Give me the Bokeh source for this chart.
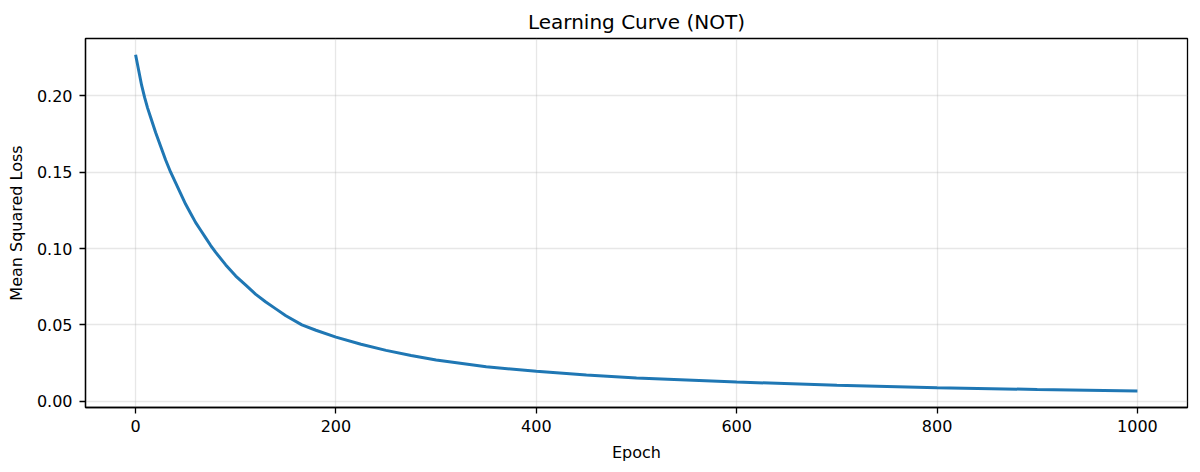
from bokeh.plotting import figure
from bokeh.models import ColumnDataSource, Range1d, FixedTicker, NumeralTickFormatter
from bokeh.embed import file_html
from bokeh.resources import INLINE

# loss values
epochs = [0, 3, 6, 9, 12, 15, 20, 25, 30, 35, 40, 45, 50, 55, 60, 65, 70, 75, 80, 90,
          100, 110, 120, 130, 140, 150, 166, 180, 200, 225, 250, 275, 300, 350, 400,
          450, 500, 600, 700, 800, 900, 1000]
loss = [0.227, 0.217, 0.207, 0.199, 0.192, 0.186, 0.176, 0.167, 0.158, 0.150, 0.143,
        0.136, 0.129, 0.123, 0.117, 0.112, 0.107, 0.102, 0.0975, 0.0893, 0.082, 0.076,
        0.070, 0.065, 0.0605, 0.056, 0.050, 0.0465, 0.042, 0.0373, 0.0333, 0.0300,
        0.0270, 0.0226, 0.0196, 0.0172, 0.0153, 0.0126, 0.0105, 0.0089, 0.0077, 0.0067]

x_ticks = [0, 200, 400, 600, 800, 1000]
y_ticks = [0.0, 0.05, 0.10, 0.15, 0.20]

FONT = "DejaVu Sans"


def create_chart():
    source = ColumnDataSource(data=dict(epoch=epochs, loss=loss))

    p = figure(title="Learning Curve (NOT)", width=1200, height=472,
               x_range=Range1d(-50, 1050), y_range=Range1d(-0.0041, 0.2376),
               output_backend="svg", toolbar_location=None,
               min_border_left=85, min_border_right=13,
               min_border_top=38, min_border_bottom=65)

    p.line('epoch', 'loss', source=source, line_width=3, color='#1f77b4')

    p.title.text_font = FONT
    p.title.text_font_size = "20px"
    p.title.text_font_style = "normal"
    p.title.text_color = "black"
    p.title.align = "center"
    p.title.standoff = 10

    p.outline_line_color = "black"
    p.outline_line_width = 1.3
    p.outline_line_alpha = 1.0

    for ax in (p.xaxis, p.yaxis):
        ax.axis_line_color = "black"
        ax.axis_line_width = 1.3
        ax.major_tick_line_color = "black"
        ax.major_tick_line_width = 1.3
        ax.major_tick_in = 0
        ax.major_tick_out = 6
        ax.minor_tick_line_color = None
        ax.major_label_text_font = FONT
        ax.major_label_text_font_size = "16px"
        ax.major_label_text_color = "black"
        ax.major_label_standoff = 6
        ax.axis_label_text_font = FONT
        ax.axis_label_text_font_size = "16px"
        ax.axis_label_text_font_style = "normal"
        ax.axis_label_text_color = "black"
        ax.axis_label_standoff = 8

    p.yaxis.major_label_standoff = 7
    p.xaxis.axis_label = "Epoch"
    p.yaxis.axis_label = "Mean Squared Loss"
    p.xaxis.ticker = FixedTicker(ticks=x_ticks)
    p.yaxis.ticker = FixedTicker(ticks=y_ticks)
    p.yaxis.formatter = NumeralTickFormatter(format="0.00")

    p.grid.grid_line_color = "#b0b0b0"
    p.grid.grid_line_alpha = 0.3
    p.grid.grid_line_width = 1.3

    return p


def main():
    chart = create_chart()
    with open("out.html", "w") as f:
        f.write(file_html(chart, INLINE))


if __name__ == "__main__":
    main()
